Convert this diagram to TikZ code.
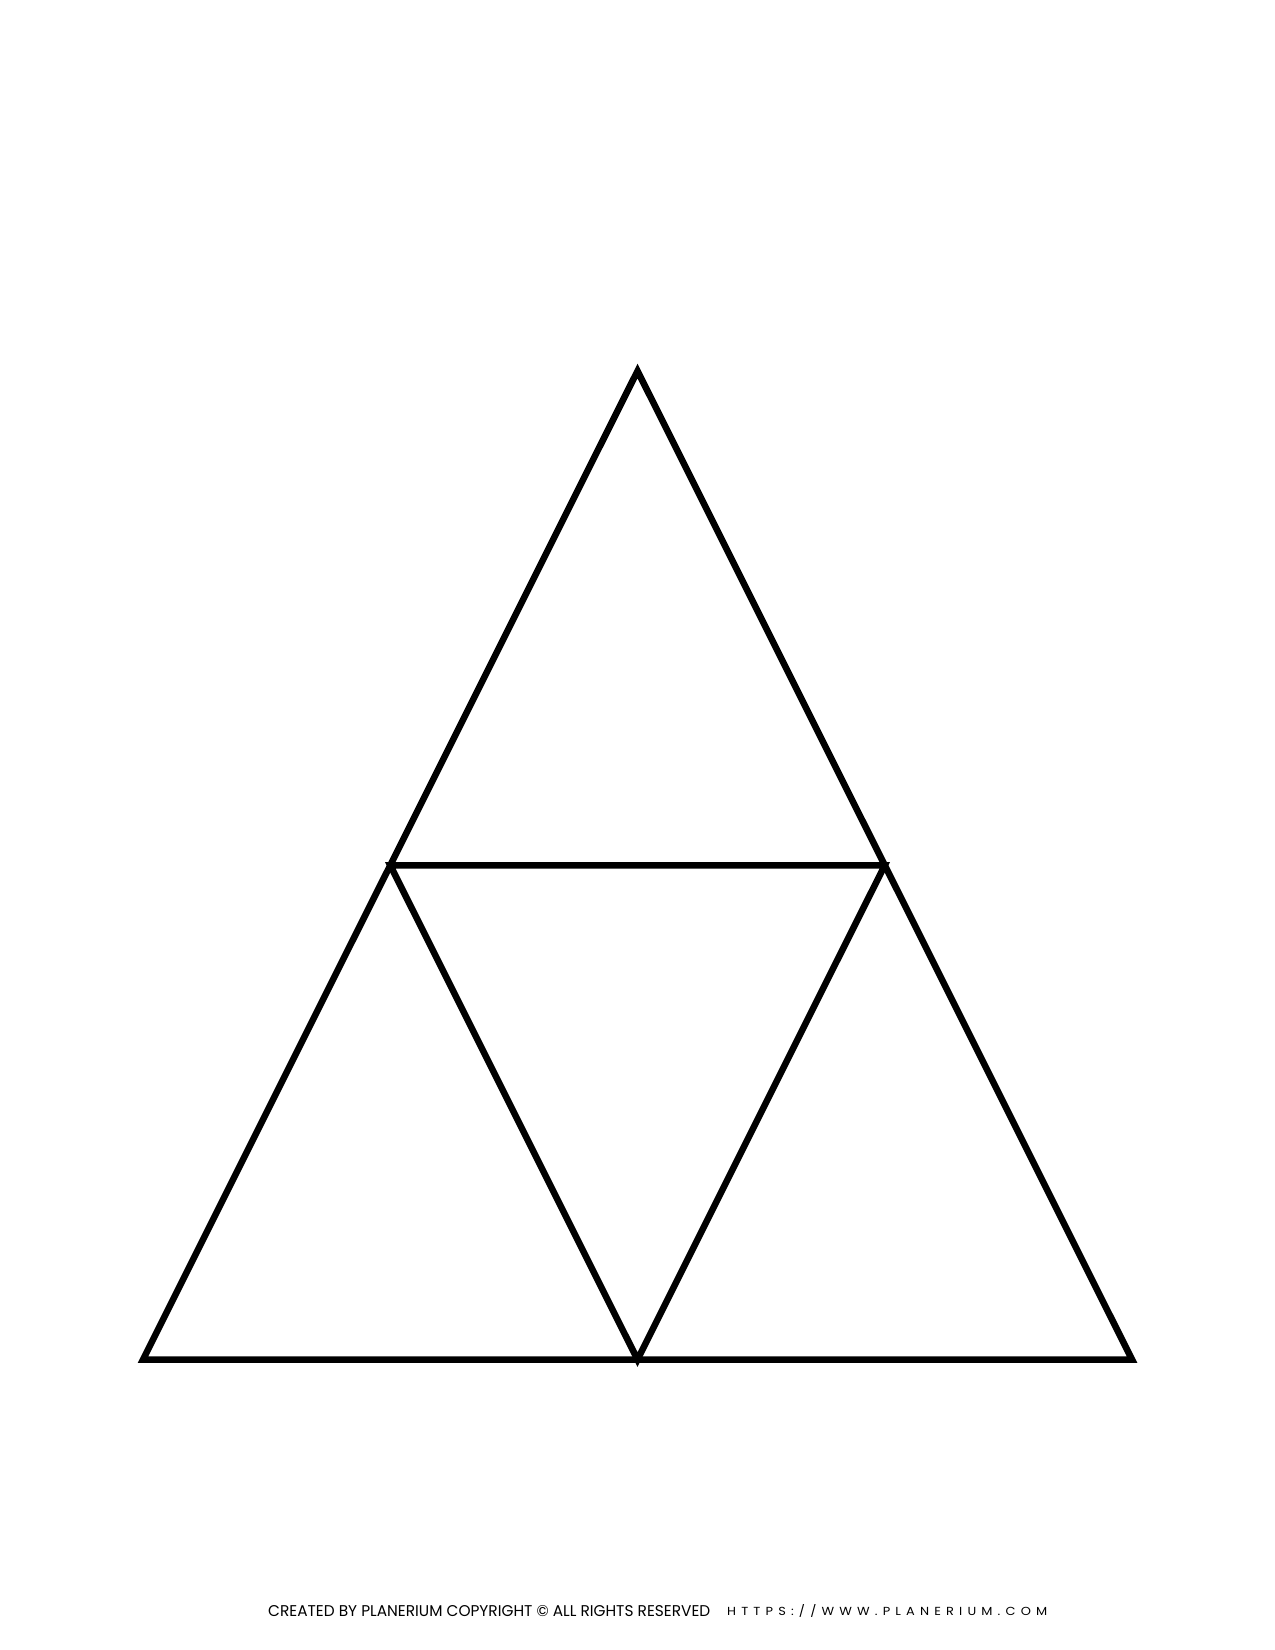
\documentclass[tikz,border=0pt]{standalone}
\usepackage{fontspec}
\setmainfont{Poppins}
\begin{document}
\begin{tikzpicture}[x=1pt,y=-1pt,
  edge/.style={line width=6.5pt,line join=miter,line cap=rect},
  foot/.style={inner sep=0pt,anchor=west}]
\useasboundingbox[fill=white] (0,0) rectangle (1275,1650);
\coordinate (A) at (637.5,371);
\coordinate (BL) at (143,1359.5);
\coordinate (BR) at (1132,1359.5);
\coordinate (ML) at (390.25,865.25);
\coordinate (MR) at (884.75,865.25);
\coordinate (MB) at (637.5,1359.5);
\draw[edge] (A) -- (BL) -- (BR) -- cycle;
\draw[edge] (ML) -- (MR) -- (MB) -- cycle;
\node[foot] (t1) at (268,1611) {\resizebox{442pt}{11pt}{CREATED BY PLANERIUM COPYRIGHT \textcopyright\ ALL RIGHTS RESERVED}};
\node[foot] (t2) at (727,1611) {\resizebox{320pt}{11pt}{\addfontfeatures{LetterSpace=40}HTTPS://WWW.PLANERIUM.COM}};
\end{tikzpicture}
\end{document}
